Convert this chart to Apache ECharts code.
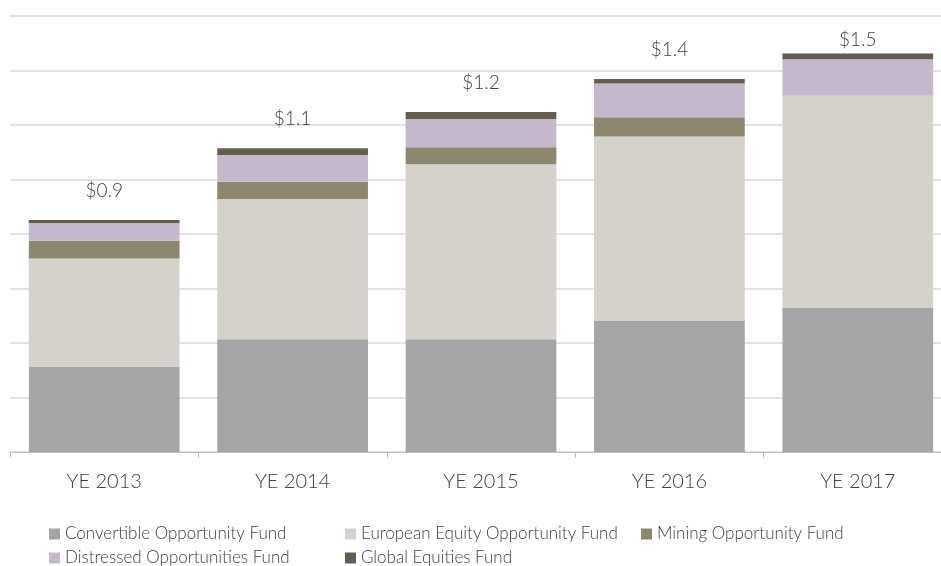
<!DOCTYPE html>
<html>
<head>
<meta charset="utf-8">
<script src="https://cdn.jsdelivr.net/npm/echarts@6.0.0/dist/echarts.min.js"></script>
<style>
    html, body { margin: 0; padding: 0; background: #fff; }
    #chart { width: 941px; height: 566px; }
</style>
</head>
<body>
<div id="chart"></div>
<script>
// data (USD billions)
const categories = ['YE 2013', 'YE 2014', 'YE 2015', 'YE 2016', 'YE 2017'];
const seriesNames = [
    'Convertible Opportunity Fund',
    'European Equity Opportunity Fund',
    'Mining Opportunity Fund',
    'Distressed Opportunities Fund',
    'Global Equities Fund'
];
const convertible = [0.312, 0.414, 0.414, 0.483, 0.530];
const european = [0.398, 0.514, 0.642, 0.675, 0.777];
const mining = [0.065, 0.064, 0.062, 0.070, 0];
const distressed = [0.065, 0.098, 0.104, 0.124, 0.134];
const globalEq = [0.011, 0.025, 0.026, 0.017, 0.021];
const totalLabels = ['$0.9', '$1.1', '$1.2', '$1.4', '$1.5'];

const dom = document.getElementById('chart');
const FONT = 'Lato';
const TEXT = '#404040';

function renderChart() {
    var myChart = echarts.init(dom);
    let valueList = [convertible, european, mining, distressed, globalEq];
    let colorArr = ['#a5a5a5', '#d4d2ca', '#8d876f', '#c5b8cc', '#635e50'];

    let seriesArr = [];
    seriesNames.forEach((name, index) => {
        let isTop = index === seriesNames.length - 1;
        seriesArr.push({
            name: name,
            type: 'bar',
            stack: 'total',
            barWidth: '80%',
            data: valueList[index].map((v, i) => {
                // last label sits closer to its bar
                if (isTop && i === valueList[index].length - 1) {
                    return { value: v, label: { distance: 4 } };
                }
                return v;
            }),
            itemStyle: { color: colorArr[index] },
            emphasis: { disabled: true },
            label: isTop ? {
                show: true,
                position: 'top',
                distance: 20,
                formatter: p => totalLabels[p.dataIndex],
                fontFamily: FONT,
                fontWeight: 300,
                fontSize: 19,
                color: TEXT
            } : { show: false }
        });
    });

    // legend laid out in columns like the original
    let legendPos = [[49, 524], [345, 524], [641, 524], [49, 548], [345, 548]];
    let legendArr = seriesNames.map((name, index) => ({
        data: [name],
        left: legendPos[index][0],
        top: legendPos[index][1],
        padding: 0,
        icon: 'rect',
        itemWidth: 11,
        itemHeight: 11,
        textStyle: {
            fontFamily: FONT,
            fontWeight: 300,
            fontSize: 17,
            lineHeight: 20,
            color: TEXT
        }
    }));

    var option = {
        animation: false,
        backgroundColor: '#fff',
        legend: legendArr,
        grid: {
            left: 10,
            right: -11,
            top: 16,
            bottom: 114,
            containLabel: false,
            outerBoundsMode: 'none'
        },
        xAxis: {
            type: 'category',
            data: categories,
            axisLine: { lineStyle: { color: '#bfbfbf', width: 1 } },
            axisTick: { show: true, length: 6, lineStyle: { color: '#bfbfbf' } },
            axisLabel: {
                margin: 20,
                fontFamily: FONT,
                fontWeight: 300,
                fontSize: 20,
                color: TEXT
            }
        },
        yAxis: {
            type: 'value',
            min: 0,
            max: 1.6,
            interval: 0.2,
            axisLabel: { show: false },
            axisLine: { show: false },
            axisTick: { show: false },
            splitLine: { lineStyle: { color: '#d9d9d9', width: 1.5 } }
        },
        series: seriesArr
    };

    myChart.setOption(option);
}

document.addEventListener('DOMContentLoaded', () => {
    renderChart();
});
</script>
</body>
</html>
